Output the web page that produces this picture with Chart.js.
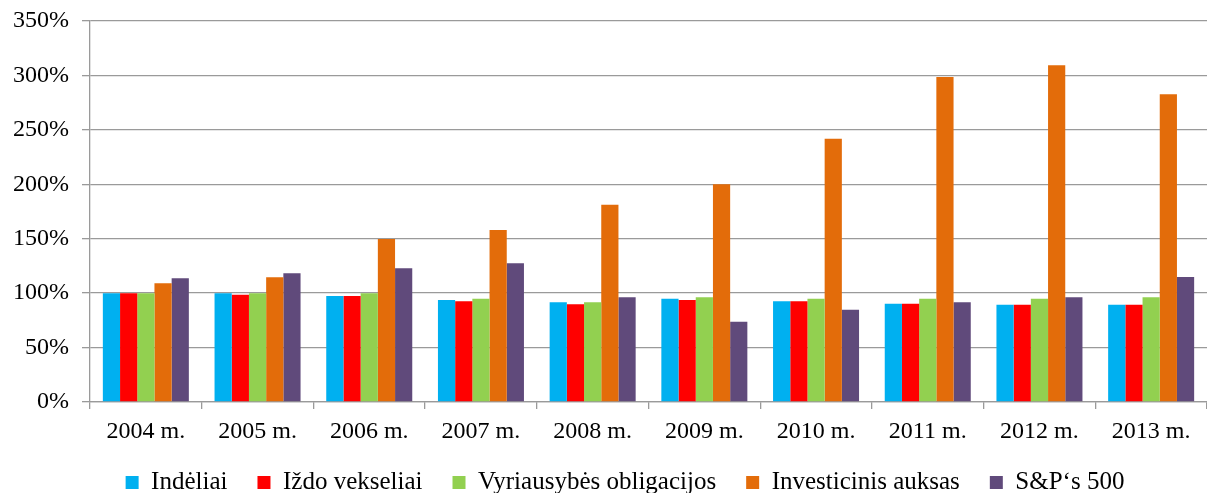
<!DOCTYPE html>
<html><head><meta charset="utf-8">
<script src="https://cdn.jsdelivr.net/npm/chart.js@4/dist/chart.umd.min.js"></script>
<style>html,body{margin:0;padding:0;background:#fff}#w{width:1207px;height:493px}</style>
</head><body><div id="w"><canvas id="c"></canvas></div>
<script>
const categories = ["2004 m.","2005 m.","2006 m.","2007 m.","2008 m.","2009 m.","2010 m.","2011 m.","2012 m.","2013 m."];
const seriesNames = ["Indėliai","Iždo vekseliai","Vyriausybės obligacijos","Investicinis auksas","S&P‘s 500"];
const indeliai = [100,100,97.4,93.7,91.6,94.9,92.5,90.3,89.4,89.4];
const izdoVekseliai = [100,98.5,97.4,92.5,89.7,93.7,92.5,90.3,89.4,89.4];
const obligacijos = [100,100,100,94.9,91.6,96.2,94.9,94.9,94.9,96.2];
const auksas = [109,114.5,149.7,158,181.3,200,241.9,298.5,309.3,282.6];
const sp500 = [113.6,118.2,122.8,127.4,96.2,73.8,84.8,91.6,96.2,114.8];
const yTicks = [0,50,100,150,200,250,300,350];
const colors = ["#00B0F0","#FF0000","#92D050","#E36C0A","#604A7B"];
const values = [indeliai, izdoVekseliai, obligacijos, auksas, sp500];
const font = "'Liberation Serif','Times New Roman',serif";
const legendShift = {
  id:'legendShift',
  afterLayout(chart){ if(chart.legend){ chart.legend.left += 16; chart.legend.right += 16; } }
};
new Chart(document.getElementById('c'), {
  type: 'bar',
  data: {
    labels: categories,
    datasets: seriesNames.map((n,i)=>({label:n,data:values[i],backgroundColor:colors[i],borderWidth:0,categoryPercentage:0.77,barPercentage:1}))
  },
  plugins:[legendShift],
  options: {
    responsive:true, maintainAspectRatio:false, animation:false,
    layout:{padding:{top:0,right:-11,left:0,bottom:-12}},
    plugins:{
      tooltip:{enabled:false},
      legend:{position:'bottom',labels:{font:{family:font,size:25},color:'#000',boxWidth:13,boxHeight:13,padding:30}}
    },
    scales:{
      y:{min:0,max:350,
        afterFit:s=>{s.width=90;},
        afterBuildTicks:s=>{s.ticks=yTicks.map(v=>({value:v}));},
        ticks:{font:{family:font,size:24,lineHeight:0.667},color:'#000',padding:13,callback:v=>v+'%'},
        grid:{color:'#9a9a9a',lineWidth:1.3,tickLength:8,tickColor:'#9a9a9a'},
        border:{color:'#9a9a9a',width:1.3}
      },
      x:{
        afterFit:s=>{s.height=38;},
        ticks:{font:{family:font,size:24},color:'#000',padding:8},
        grid:{display:true,drawOnChartArea:false,tickLength:7,color:'#9a9a9a',lineWidth:1.3,offset:true},
        border:{color:'#9a9a9a',width:1.3}
      }
    }
  }
});
</script></body></html>
